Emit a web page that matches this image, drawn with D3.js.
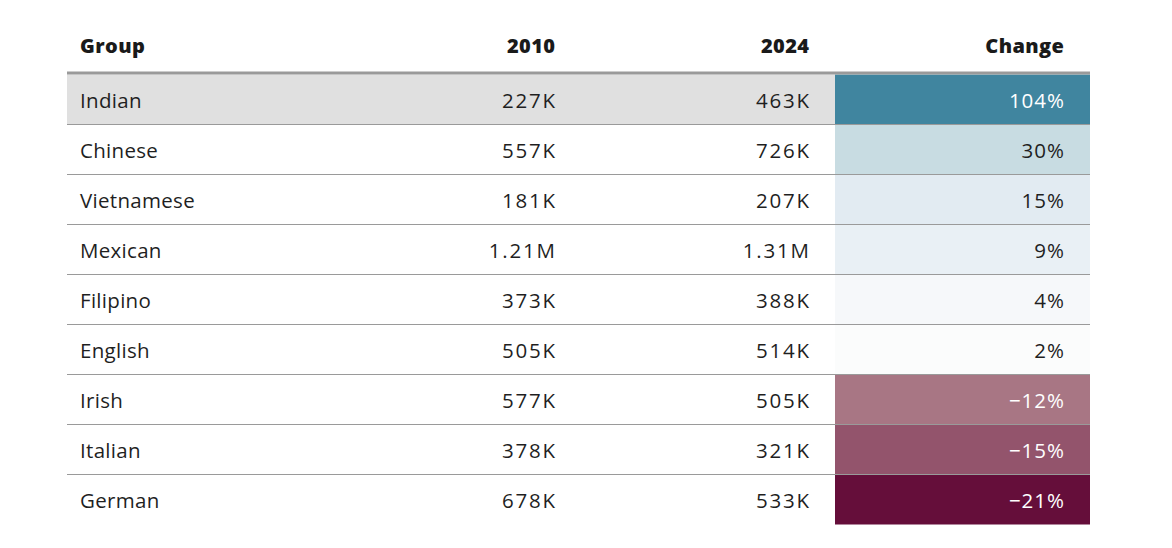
<!DOCTYPE html>
<html><head><meta charset="utf-8">
<script src="https://cdn.jsdelivr.net/npm/d3@7"></script>
<style>
html,body{margin:0;padding:0;background:#fff;}
svg{display:block;}
</style></head>
<body>
<svg id="chart" width="1172" height="548"></svg>
<script>
const groups = ["Indian","Chinese","Vietnamese","Mexican","Filipino","English","Irish","Italian","German"];
const pop2010 = [227000,557000,181000,1210000,373000,505000,577000,378000,678000];
const pop2024 = [463000,726000,207000,1310000,388000,514000,505000,321000,533000];
const change = [104,30,15,9,4,2,-12,-15,-21];
const headers = ["Group","2010","2024","Change"];
const highlight = "Indian";

(function(){
const svg = d3.select("#chart");
const tLeft = 67, tRight = 1090, headerY = 46, ruleY = 73, tTop = 74.5, rowH = 50;

const y = d3.scaleBand().domain(groups).range([tTop, tTop + rowH*groups.length]).padding(0);
const colX = {group: 80, c2010: 555, c2024: 809, change: 1064};
const cellLeft = 835;

const color = d3.scaleLinear()
  .domain([-21,-15,-12,0,2,4,9,15,30,104])
  .range(["#650e3a","#93546c","#a87684","#ffffff","#fbfcfc","#f6f8fa","#e9f0f5","#e2ebf2","#c8dce2","#40859f"]);

const fmt = v => v >= 1e6 ? d3.format(".3~s")(v) : Math.round(v/1000) + "K";
const fmtPct = v => (v < 0 ? "\u2212" + Math.abs(v) : v) + "%";

const font = "'Open Sans', 'Noto Sans', sans-serif";

const hx = [colX.group, colX.c2010, colX.c2024, colX.change];
svg.selectAll("text.h").data(headers).join("text")
  .attr("class","h")
  .attr("x",(d,i)=>hx[i] + (i===0 ? 0 : 0.4)).attr("y",headerY).attr("dy","0.35em")
  .attr("text-anchor",(d,i)=> i===0 ? "start" : "end")
  .style("font-family",font).style("font-weight",800).style("font-size","20px")
  .style("letter-spacing","0.4px")
  .style("fill","#1a1a1a").text(d=>d);

const rows = groups.map((g,i)=>({g, a:pop2010[i], b:pop2024[i], c:change[i]}));

svg.selectAll("rect.bg").data(rows.filter(r=>r.g===highlight)).join("rect")
  .attr("class","bg")
  .attr("x",tLeft).attr("y",r=>y(r.g)).attr("width",cellLeft-tLeft).attr("height",y.bandwidth())
  .attr("fill","#e0e0e0");

svg.selectAll("rect.cell").data(rows).join("rect")
  .attr("class","cell")
  .attr("x",cellLeft).attr("y",r=>y(r.g)).attr("width",tRight-cellLeft).attr("height",y.bandwidth())
  .attr("fill",r=>color(r.c));

svg.selectAll("line.sep").data(rows.slice(1)).join("line")
  .attr("class","sep")
  .attr("x1",tLeft).attr("x2",tRight)
  .attr("y1",r=>y(r.g)).attr("y2",r=>y(r.g))
  .attr("stroke","#9a9a9a").attr("stroke-width",1);

svg.append("line").attr("x1",tLeft).attr("x2",tRight).attr("y1",ruleY).attr("y2",ruleY)
  .attr("stroke","#9a9a9a").attr("stroke-width",3);

const textStyle = sel => sel.style("font-family",font).style("font-size","20.5px");

const rg = svg.selectAll("g.row").data(rows).join("g").attr("class","row")
  .attr("transform",r=>`translate(0,${y(r.g)+y.bandwidth()/2 + 1.5})`);

rg.append("text").attr("x",colX.group).attr("dy","0.35em").call(textStyle)
  .style("fill","#1f1f1f").style("letter-spacing","0.3px").text(r=>r.g);
rg.append("text").attr("x",colX.c2010 + 1.8).attr("dy","0.35em").attr("text-anchor","end").call(textStyle)
  .style("fill","#1f1f1f").style("letter-spacing","1.8px").text(r=>fmt(r.a));
rg.append("text").attr("x",colX.c2024 + 1.8).attr("dy","0.35em").attr("text-anchor","end").call(textStyle)
  .style("fill","#1f1f1f").style("letter-spacing","1.8px").text(r=>fmt(r.b));
rg.append("text").attr("x",colX.change + 1).attr("dy","0.35em").attr("text-anchor","end").call(textStyle)
  .style("letter-spacing","1px")
  .style("fill",r=> (r.c > 50 || r.c < -10) ? "#ffffff" : "#1f1f1f").text(r=>fmtPct(r.c));
})();
</script>
</body></html>
